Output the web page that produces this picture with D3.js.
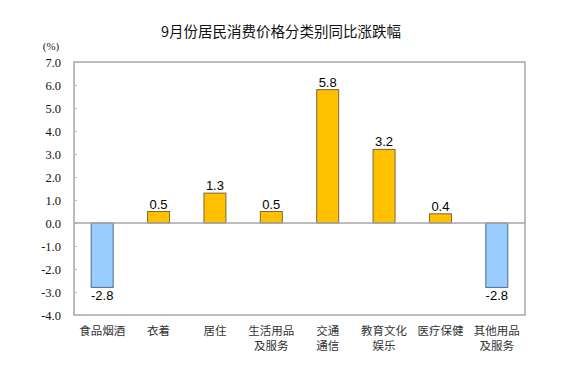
<!DOCTYPE html>
<html><head><meta charset="utf-8">
<script src="https://cdn.jsdelivr.net/npm/d3@7"></script>
<style>body{margin:0;background:#fff}svg{display:block}</style>
</head><body>
<script>
const categories = [["食品烟酒"],["衣着"],["居住"],["生活用品","及服务"],["交通","通信"],["教育文化","娱乐"],["医疗保健"],["其他用品","及服务"]];
const values = [-2.8, 0.5, 1.3, 0.5, 5.8, 3.2, 0.4, -2.8];
const yTicks = [7,6,5,4,3,2,1,0,-1,-2,-3,-4];
const title = "9月份居民消费价格分类别同比涨跌幅";
const unit = "(%)";

const fmt = d => d3.format(".1f")(d).replace("\u2212","-");
const W = 567, H = 381;
const m = {left:74, right:42, top:62, bottom:66};
const svg = d3.select("body").append("svg").attr("width",W).attr("height",H);
const x = d3.scaleBand().domain(d3.range(categories.length)).range([m.left, W-m.right]).paddingInner(0.61).paddingOuter(0.305);
const y = d3.scaleLinear().domain([-4,7]).range([H-m.bottom, m.top]);

svg.append("text").attr("x",281).attr("y",37).attr("text-anchor","middle")
  .attr("font-family","Noto Sans CJK SC").attr("font-size",14.5).attr("fill","#111").text(title);
svg.append("text").attr("x",51).attr("y",50).attr("text-anchor","middle")
  .attr("font-family","Liberation Serif").attr("font-size",11).attr("fill","#222").text(unit);

// frame
svg.append("rect").attr("x",m.left).attr("y",y(7)).attr("width",W-m.right-m.left).attr("height",y(-4)-y(7))
  .attr("fill","none").attr("stroke","#a6a6a6").attr("stroke-width",1.5);

const yAxis = d3.axisLeft(y).tickValues(yTicks).tickFormat(fmt).tickSize(-3).tickPadding(13);
const ga = svg.append("g").attr("transform",`translate(${m.left},0)`).call(yAxis);
ga.attr("font-family","Liberation Serif");
ga.select(".domain").remove();
ga.selectAll(".tick line").attr("stroke","#bbb");
ga.selectAll(".tick text").attr("font-family","Liberation Serif").attr("font-size",12.5).attr("fill","#111");

// bars
svg.selectAll("rect.bar").data(values).join("rect").attr("class","bar")
  .attr("x",(d,i)=>x(i)).attr("width",x.bandwidth())
  .attr("y",d=>y(Math.max(0,d))).attr("height",d=>Math.abs(y(d)-y(0)))
  .attr("fill",d=>d<0?"#99ccff":"#ffc000").attr("stroke",d=>d<0?"#4f6b8a":"#7a6a3a").attr("stroke-width",1);

// zero line
svg.append("line").attr("x1",m.left).attr("x2",W-m.right).attr("y1",y(0)).attr("y2",y(0))
  .attr("stroke","#a6a6a6").attr("stroke-width",1.5);

// value labels
svg.selectAll("text.val").data(values).join("text").attr("class","val")
  .attr("x",(d,i)=>x(i)+x.bandwidth()/2)
  .attr("y",d=>d<0?y(d)+13:y(d)-3)
  .attr("text-anchor","middle").attr("font-family","Liberation Sans").attr("font-size",13).attr("fill","#000")
  .text(fmt);

// category labels (one text per line)
const lines = [];
categories.forEach((c,i)=>c.forEach((t,j)=>lines.push({t,i,j})));
svg.selectAll("text.cat").data(lines).join("text").attr("class","cat")
  .attr("x",d=>x(d.i)+x.bandwidth()/2).attr("y",d=>335+d.j*15)
  .attr("text-anchor","middle").attr("font-family","Noto Sans CJK SC").attr("font-size",11.5).attr("fill","#333")
  .text(d=>d.t);
</script>
</body></html>
